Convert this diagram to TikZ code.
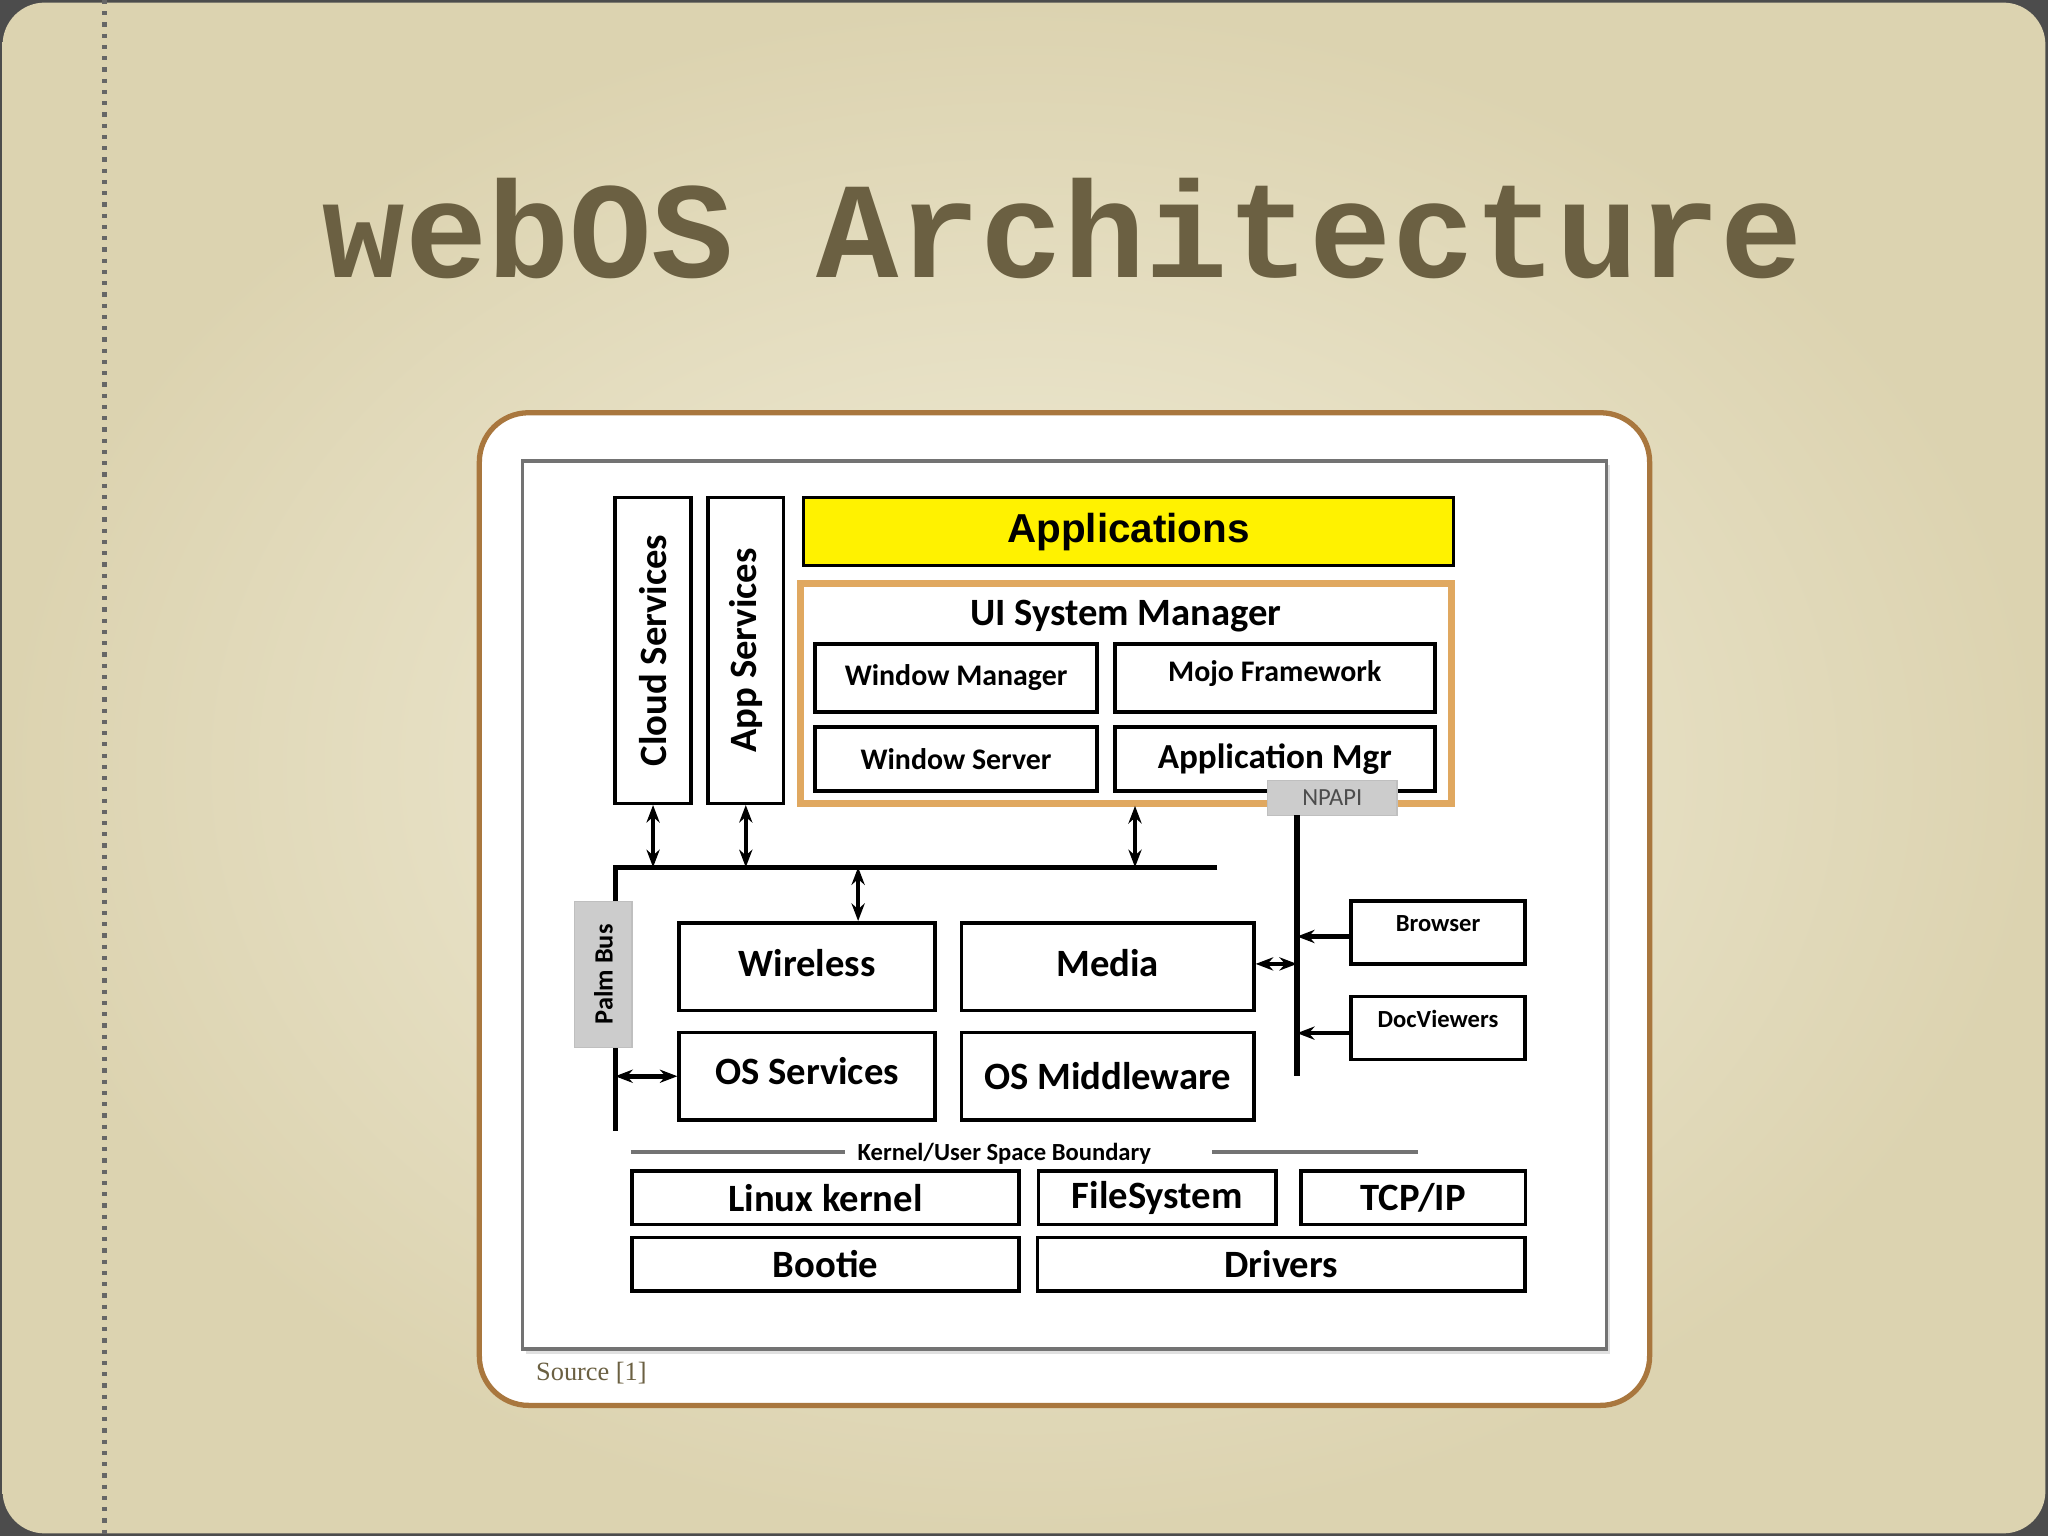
\documentclass[tikz,border=0pt]{standalone}
\usepackage{fontspec}
\setmainfont{Carlito}
\newfontfamily\headfont{Liberation Mono}
\newfontfamily\appfont{Liberation Sans}
\newfontfamily\srcfont{Liberation Serif}
\usetikzlibrary{arrows.meta}
\definecolor{slidebg}{HTML}{F2EEDA}
\definecolor{slideedge}{HTML}{DCD3B0}
\definecolor{titlecol}{HTML}{6B6042}
\definecolor{framecol}{HTML}{A9773E}
\definecolor{uicol}{HTML}{E0A860}
\def\u{0.01306cm}
\tikzset{
  box/.style = {draw, line width=1pt, inner sep=0pt, font=\bfseries\fontsize{11}{13}\selectfont},
  smallbox/.style = {box, font=\bfseries\fontsize{8.5}{10}\selectfont},
  tinybox/.style = {box, font=\bfseries\fontsize{7}{8}\selectfont},
  busline/.style = {line width=1.5pt},
  busarrow/.style = {line width=1.3pt, {Stealth[length=5pt]}-{Stealth[length=5pt]}},
  inarrow/.style = {line width=1.3pt, -{Stealth[length=5pt]}},
}
\begin{document}
\begin{tikzpicture}[x=\u, y=-\u]
  % slide background
  \fill[black!70] (0,0) rectangle (1568,1176);
  \shade[rounded corners=12pt, inner color=slidebg, outer color=slideedge] (2,2) rectangle (1566,1174);
  \useasboundingbox (0,0) rectangle (1568,1176);
  \draw[black!60, line width=1.2pt, dotted] (80,0) -- (80,1176);
  \node[text=titlecol, font=\headfont\bfseries\fontsize{39}{44}\selectfont] (title) at (814,175) {webOS Architecture};

  % frame and figure
  \draw[framecol, fill=white, line width=1.5pt, rounded corners=14pt] (367,316) rectangle (1263,1076);
  \fill[black!12] (403,356) rectangle (1233,1037);
  \draw[black!55, fill=white, line width=1pt] (400,353) rectangle (1230,1033);
  \node[anchor=west, text=titlecol, font=\srcfont\fontsize{7.5}{9}\selectfont] (src) at (401,1051) {Source [1]};

  % service columns
  \node[box, minimum width={58*\u}, minimum height={234*\u}] (cloud) at (500,498) {};
  \node[rotate=90, font=\bfseries\fontsize{11}{13}\selectfont] at (cloud) {Cloud Services};
  \node[box, minimum width={58*\u}, minimum height={234*\u}] (appsrv) at (571,498) {};
  \node[rotate=90, font=\bfseries\fontsize{11}{13}\selectfont] at (appsrv) {App Services};

  % applications and UI system manager
  \node[box, fill=yellow, minimum width={498*\u}, minimum height={52*\u}, font=\appfont\bfseries\fontsize{11.5}{14}\selectfont] (apps) at (864,407) {Applications};
  \node[draw=uicol, line width=2pt, minimum width={498*\u}, minimum height={168*\u}, inner sep=0pt] (uism) at (862,531) {};
  \node[font=\bfseries\fontsize{11}{13}\selectfont] (uititle) at (862,472) {UI System Manager};
  \node[smallbox, minimum width={216*\u}, minimum height={52*\u}] (winmgr) at (732,519) {Window Manager};
  \node[smallbox, minimum width={245*\u}, minimum height={52*\u}] (mojo) at (976,519) {\raisebox{4pt}{Mojo Framework}};
  \node[smallbox, minimum width={216*\u}, minimum height={49*\u}] (winsrv) at (732,581) {\raisebox{-3pt}{Window Server}};
  \node[smallbox, minimum width={245*\u}, minimum height={49*\u}, font=\bfseries\fontsize{10}{12}\selectfont] (appmgr) at (976,581) {Application Mgr};
  \node[fill=black!20, draw=black!25, minimum width={99*\u}, minimum height={27*\u}, inner sep=0pt, font=\fontsize{7}{8}\selectfont, text=black!70] (npapi) at (1020,611) {NPAPI};

  % palm bus
  \coordinate (busW) at (471,664);
  \coordinate (busE) at (932,664);
  \coordinate (busS) at (471,866);
  \draw[busline] (busE) -- (busW) -- (busS);
  \node[fill=black!20, draw=black!25, minimum width={44*\u}, minimum height={112*\u}] (palmbus) at (462,746) {};
  \node[rotate=90, font=\bfseries\fontsize{7.5}{9}\selectfont] at (palmbus) {Palm Bus};

  % middle layer
  \node[box, minimum width={196*\u}, minimum height={67*\u}] (wireless) at (618,740) {\raisebox{2pt}{Wireless}};
  \node[box, minimum width={224*\u}, minimum height={67*\u}] (media) at (848,740) {\raisebox{2pt}{Media}};
  \node[box, minimum width={196*\u}, minimum height={67*\u}] (ossrv) at (618,824) {\raisebox{3pt}{OS Services}};
  \node[box, minimum width={224*\u}, minimum height={67*\u}] (osmw) at (848,824) {\raisebox{-4pt}{OS Middleware}};

  % plugin side
  \coordinate (plugT) at (993,624);
  \coordinate (plugB) at (993,824);
  \draw[busline] (plugT) -- (plugB);
  \node[tinybox, minimum width={133*\u}, minimum height={48*\u}] (browser) at (1101,714) {\raisebox{5pt}{Browser}};
  \node[tinybox, minimum width={133*\u}, minimum height={48*\u}] (docview) at (1101,787) {\raisebox{5pt}{DocViewers}};
  \draw[inarrow] (browser.west |- 0,717) -- (993,717);
  \draw[inarrow] (docview.west |- 0,791) -- (993,791);
  \draw[busarrow] (media.east |- 0,738) -- (993,738);

  % bus connections
  \draw[busarrow] (cloud.south) -- (cloud.south |- busW);
  \draw[busarrow] (appsrv.south) -- (appsrv.south |- busW);
  \draw[busarrow] (869,617) -- (869,664);
  \draw[busarrow] (wireless.north -| 657,0) -- (657,664);
  \draw[busarrow] (471,824) -- (ossrv.west);

  % kernel layer
  \draw[black!55, line width=1pt] (483,882) -- (647,882);
  \draw[black!55, line width=1pt] (928,882) -- (1086,882);
  \node[font=\bfseries\fontsize{7}{8}\selectfont] (boundary) at (769,883) {Kernel/User Space Boundary};
  \node[box, minimum width={296*\u}, minimum height={41*\u}] (linux) at (632,917) {Linux kernel};
  \node[box, minimum width={182*\u}, minimum height={41*\u}] (fs) at (886,917) {FileSystem};
  \node[box, minimum width={172*\u}, minimum height={41*\u}] (tcpip) at (1082,917) {TCP/IP};
  \node[box, minimum width={296*\u}, minimum height={41*\u}] (bootie) at (632,968) {Bootie};
  \node[box, minimum width={373*\u}, minimum height={41*\u}] (drivers) at (981,968) {Drivers};
\end{tikzpicture}
\end{document}
